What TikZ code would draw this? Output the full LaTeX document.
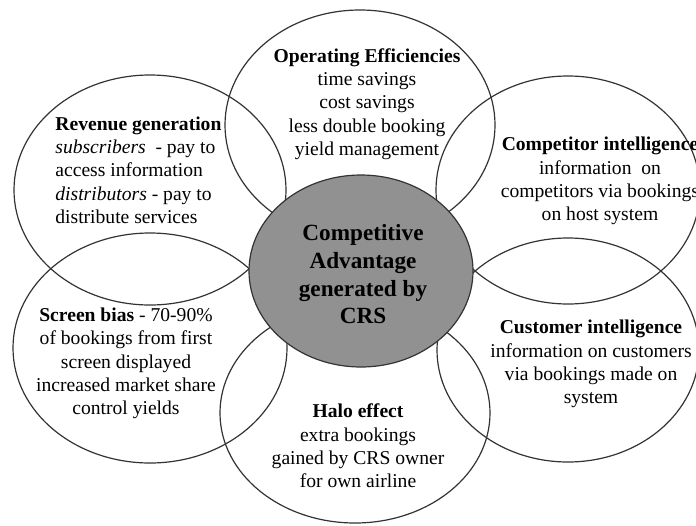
\documentclass[tikz,border=0pt]{standalone}
\usepackage{fontspec}
\setmainfont{Liberation Serif}
\usetikzlibrary{shapes.geometric}

\begin{document}
\begin{tikzpicture}[
    x=0.5pt, y=-0.5pt,
    petal/.style={ellipse, draw=black!80, line width=0.6pt, inner sep=0pt, outer sep=0pt},
    core/.style={ellipse, draw=black!80, line width=0.6pt, fill=black!43, inner sep=0pt, minimum width=112pt, minimum height=96pt},
    txt/.style={align=center, inner sep=0pt, font=\fontsize{9.8}{11.65}\selectfont},
    coretxt/.style={align=center, inner sep=0pt, font=\fontsize{11.6}{13.85}\selectfont\bfseries}
]
\useasboundingbox (0,0) rectangle (696,525);

% outer ellipses
\node[petal, minimum width=135pt, minimum height=115pt] (ops) at (360,125) {};
\node[petal, minimum width=136pt, minimum height=115pt] (rev) at (150,190) {};
\node[petal, minimum width=132pt, minimum height=114pt] (comp) at (568,190) {};
\node[petal, minimum width=137pt, minimum height=115pt] (scr) at (150,348) {};
\node[petal, minimum width=131pt, minimum height=112pt] (cust) at (568,350) {};
\node[petal, minimum width=135pt, minimum height=110pt] (halo) at (355,413) {};

% centre
\node[core] (crs) at (361,271) {};

% labels
\node[txt] (opstxt) at (367,104) {\textbf{Operating Efficiencies}\\time savings\\cost savings\\less double booking\\yield management};
\node[txt, align=left, anchor=west] (revtxt) at (55,170) {\textbf{Revenue generation}\\\textit{subscribers}\ \ - pay to\\access information\\\textit{distributors} - pay to\\distribute services};
\node[txt] (comptxt) at (600,181) {\textbf{Competitor intelligence}\\information\ \ on\\competitors via bookings\\on host system};
\node[txt] (scrtxt) at (126,363.5) {\textbf{Screen bias} - 70-90\%\\of bookings from first\\screen displayed\\increased market share\\control yields};
\node[txt] (custtxt) at (591,364) {\textbf{Customer intelligence}\\information on customers\\via bookings made on\\system};
\node[txt] (halotxt) at (358,446) {\textbf{Halo effect}\\extra bookings\\gained by CRS owner\\for own airline};
\node[coretxt] (crstxt) at (363,274.5) {Competitive\\Advantage\\generated by\\CRS};
\end{tikzpicture}
\end{document}
